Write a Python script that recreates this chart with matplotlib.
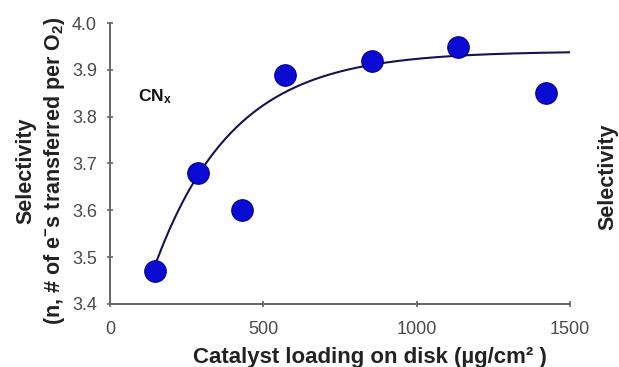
import numpy as np
import matplotlib
matplotlib.use("Agg")
import matplotlib.pyplot as plt

plt.rcParams['font.family'] = ['Liberation Sans', 'DejaVu Sans']
plt.rcParams['mathtext.fontset'] = 'custom'
plt.rcParams['mathtext.rm'] = 'Liberation Sans:bold'
plt.rcParams['mathtext.bf'] = 'Liberation Sans:bold'
plt.rcParams['mathtext.it'] = 'Liberation Sans:bold'
plt.rcParams['mathtext.default'] = 'rm'

# Measured selectivity vs catalyst loading
loading = [147, 287, 430, 571, 854, 1135, 1422]
selectivity = [3.47, 3.68, 3.60, 3.89, 3.92, 3.95, 3.85]

# Saturating-exponential trend: n = plateau - amplitude * exp(-rate * loading)
plateau = 3.94
amplitude = 0.81
rate = 0.0039
fit_start, fit_end = 140, 1500

x_ticks = [0, 500, 1000, 1500]
y_ticks = [3.4, 3.5, 3.6, 3.7, 3.8, 3.9, 4.0]

fig = plt.figure(figsize=(6.19, 3.67), dpi=100)
ax = fig.add_axes([0.178, 0.172, 0.743, 0.765])

xf = np.linspace(fit_start, fit_end, 300)
ax.plot(xf, plateau - amplitude * np.exp(-rate * xf), color='#14144e', lw=1.5, zorder=2)
ax.plot(loading, selectivity, 'o', ms=15.5, color='#0a0ad2', mec='#00008a', mew=0.8,
        zorder=3, clip_on=False)

ax.set_xlim(0, 1500)
ax.set_ylim(3.4, 4.0)
ax.set_xticks(x_ticks)
ax.set_yticks(y_ticks)
ax.set_xticklabels([str(t) for t in x_ticks])
ax.set_yticklabels([f"{t:.1f}" for t in y_ticks])

for s in ['top', 'right']:
    ax.spines[s].set_visible(False)
for s in ['left', 'bottom']:
    ax.spines[s].set_color('#666666')
    ax.spines[s].set_linewidth(1.4)
ax.tick_params(direction='inout', length=5, width=1.2, color='#666666',
               labelsize=13, labelcolor='#4a4a4a')
ax.tick_params(axis='y', pad=7)
ax.tick_params(axis='x', pad=10)

fig.text(0.598, 0.011, 'Catalyst loading on disk (µg/cm² )', fontsize=16,
         fontweight='bold', color='#222222', ha='center', va='baseline')
fig.text(0.066, 0.535, 'Selectivity\n(n, # of e$^{-}$s transferred per O$_2$)',
         rotation=90, fontsize=15.5, fontweight='bold', color='#222222',
         ha='center', va='center', multialignment='center', linespacing=1.3)

ax.text(91, 3.842, r'CN$_\mathrm{x}$', fontsize=12.5, fontweight='bold',
        color='#111111', ha='left', va='center')

fig.text(0.982, 0.518, 'Selectivity', rotation=90, fontsize=15.5, fontweight='bold',
         color='#222222', ha='center', va='center')

fig.savefig('out.png', dpi=100)
